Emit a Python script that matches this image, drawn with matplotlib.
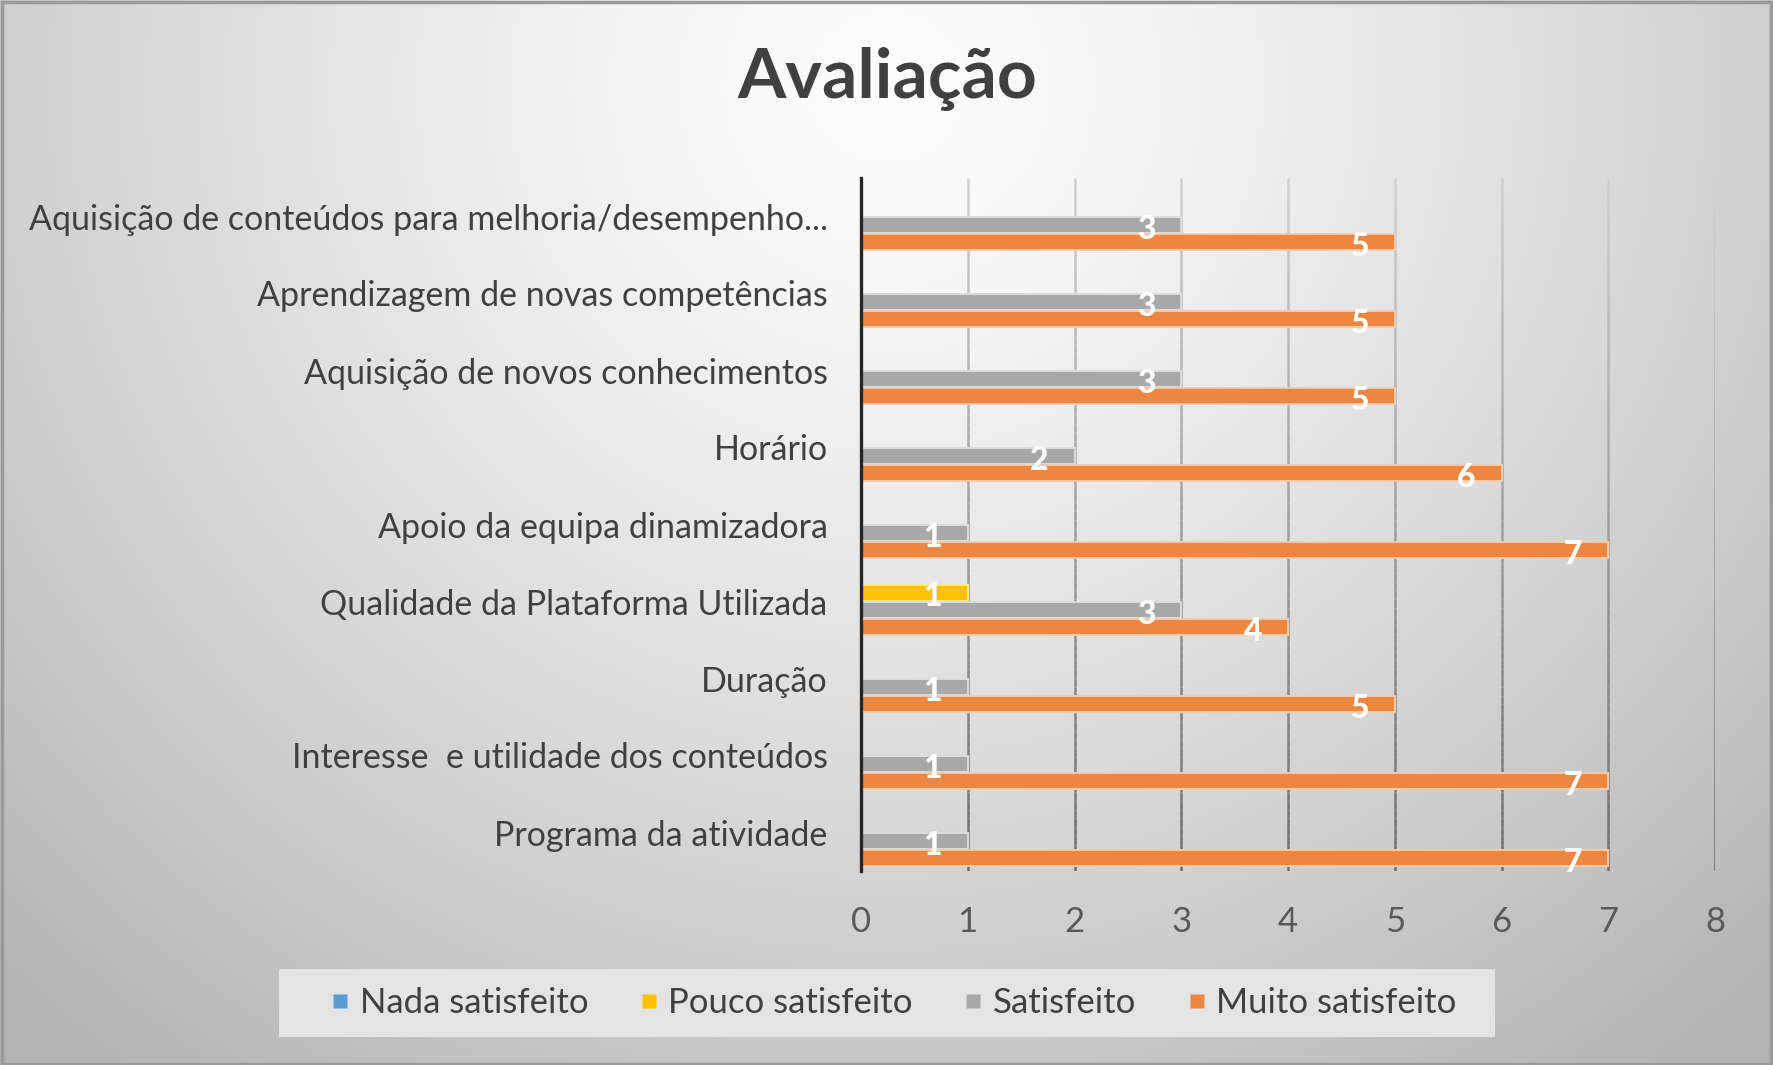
import numpy as np
import matplotlib
matplotlib.use('Agg')
import matplotlib.pyplot as plt
from matplotlib.collections import LineCollection
from matplotlib.patches import Rectangle
from matplotlib.lines import Line2D

# ---------------- data ----------------
categories = [
    "Programa da atividade",
    "Interesse  e utilidade dos conteúdos",
    "Duração",
    "Qualidade da Plataforma Utilizada",
    "Apoio da equipa dinamizadora",
    "Horário",
    "Aquisição de novos conhecimentos",
    "Aprendizagem de novas competências",
    "Aquisição de conteúdos para melhoria/desempenho...",
]
series_names = ["Nada satisfeito", "Pouco satisfeito", "Satisfeito", "Muito satisfeito"]
nada = [0, 0, 0, 0, 0, 0, 0, 0, 0]
pouco = [0, 0, 0, 1, 0, 0, 0, 0, 0]
satisfeito = [1, 1, 1, 3, 1, 2, 3, 3, 3]
muito = [7, 7, 5, 4, 7, 6, 5, 5, 5]
x_ticks = [0, 1, 2, 3, 4, 5, 6, 7, 8]
title = "Avaliação"

series_values = [nada, pouco, satisfeito, muito]
colors = ["#5B9BD5", "#FFC000", "#A8A8A8", "#ED8641"]
edge_colors = ["#BDD7EE", "#FFE699", "#DCDCDC", "#F8CBAD"]

FONT = ["Lato", "DejaVu Sans"]
plt.rcParams['font.family'] = FONT

W, H = 1773, 1065
DPI = 100
fig = plt.figure(figsize=(W / DPI, H / DPI), dpi=DPI)

# ---------------- background radial gradient ----------------
bg = fig.add_axes([0, 0, 1, 1], zorder=-5)
yy, xx = np.mgrid[0:1:300j, 0:1:500j]
d = np.sqrt(((xx - 0.5) / 0.62) ** 2 + ((yy - 0.08) / 1.0) ** 2)
val = np.clip(253 - 60 * d ** 1.3, 180, 255) / 255.0
img = np.dstack([val, val, val])
bg.imshow(img, extent=[0, 1, 0, 1], origin='upper', aspect='auto', interpolation='bilinear')
bg.set_xlim(0, 1)
bg.set_ylim(0, 1)
bg.axis('off')

# ---------------- main axes ----------------
left, right = 861 / W, 1715 / W
top, bottom = 1 - 178 / H, 1 - 871 / H
ax = fig.add_axes([left, bottom, right - left, top - bottom])
ax.set_facecolor('none')

n = len(categories)
ypos = np.arange(n)
slot = 0.222
bar_h = 0.205

ax.set_xlim(0, 8)
ax.set_ylim(-0.5, n - 0.5)

# gradient grid lines
for xv in x_ticks[1:]:
    ys = np.linspace(-0.5, n - 0.5, 80)
    segs = [[(xv, ys[i]), (xv, ys[i + 1])] for i in range(len(ys) - 1)]
    t = (np.arange(len(ys) - 1) + 0.5) / (len(ys) - 1)  # 0 bottom -> 1 top
    g = (0x6C + (0xD0 - 0x6C) * t) / 255.0
    cols = [(c, c, c) for c in g]
    lc = LineCollection(segs, colors=cols, linewidths=1.8, zorder=1)
    ax.add_collection(lc)

for i, (vals, col, ec) in enumerate(zip(series_values, colors, edge_colors)):
    yoff = ypos + (1.5 - i) * slot
    bars = ax.barh(yoff, vals, height=bar_h, color=col, edgecolor=ec,
                   linewidth=1.4, zorder=3, label=series_names[i])
    for b, v in zip(bars, vals):
        if v > 0:
            ax.annotate(str(v), xy=(v, b.get_y() + b.get_height() / 2),
                        xytext=(-35, -4), textcoords='offset pixels',
                        ha='center', va='center', color='white',
                        fontsize=23, fontweight='black', zorder=5)

for s in ['top', 'right', 'bottom']:
    ax.spines[s].set_visible(False)
ax.spines['left'].set_color('#262626')
ax.spines['left'].set_linewidth(2.4)
ax.spines['left'].set_zorder(6)

ax.set_yticks(ypos)
ax.set_yticklabels(categories, fontsize=24.5, color='#404040')
ax.set_xticks(x_ticks)
ax.set_xticklabels([str(v) for v in x_ticks], fontsize=25, color='#595959')
ax.tick_params(axis='y', length=0, pad=24)
ax.tick_params(axis='x', length=0, pad=25)

# ---------------- title ----------------
fig.text(887 / W, 1 - 79 / H, title, ha='center', va='center',
         fontsize=50, fontweight='bold', color='#404040')

# ---------------- legend ----------------
fig.patches.append(Rectangle((279 / W, 1 - 1037 / H), (1495 - 279) / W, (1037 - 969) / H,
                             transform=fig.transFigure, facecolor='#E4E4E4',
                             edgecolor='none', zorder=-1))
handles = [Line2D([], [], marker='s', linestyle='none', markersize=10,
                  markerfacecolor=c, markeredgecolor='none') for c in colors]
fig.legend(handles, series_names, loc='center', bbox_to_anchor=(893 / W, 1 - 1003 / H),
           ncol=4, frameon=False, fontsize=25, labelcolor='#404040',
           handlelength=0.6, handletextpad=0.25, columnspacing=1.45)

# ---------------- outer border ----------------
fig.patches.append(Rectangle((0.001, 0.001), 0.998, 0.997, transform=fig.transFigure,
                             facecolor='none', edgecolor='#9A9A9A', linewidth=2.5, zorder=10))

fig.savefig('out.png', dpi=DPI)
